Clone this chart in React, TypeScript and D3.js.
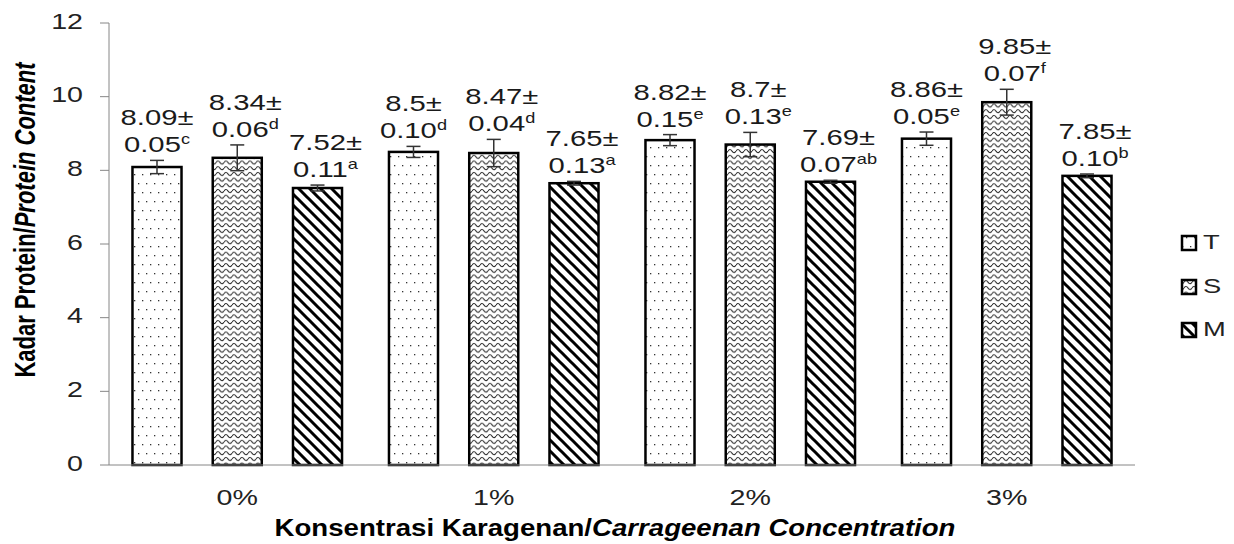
import React from "react";
import * as d3 from "d3";

const categories = ["0%", "1%", "2%", "3%"];
const seriesNames = ["T", "S", "M"];
const valuesT = [8.09, 8.5, 8.82, 8.86];
const valuesS = [8.34, 8.47, 8.7, 9.85];
const valuesM = [7.52, 7.65, 7.69, 7.85];
const errT = [0.18, 0.15, 0.15, 0.18];
const errS = [0.35, 0.37, 0.33, 0.35];
const errM = [0.08, 0.05, 0.04, 0.05];
const sdT = ["0.05", "0.10", "0.15", "0.05"];
const sdS = ["0.06", "0.04", "0.13", "0.07"];
const sdM = ["0.11", "0.13", "0.07", "0.10"];
const lettersT = ["c", "d", "e", "e"];
const lettersS = ["d", "d", "e", "f"];
const lettersM = ["a", "a", "ab", "b"];
const yTicks = [0, 2, 4, 6, 8, 10, 12];

const W = 1234;
const H = 544;
const X0 = 109;
const X1 = 1135;
const Y0 = 465;
const Y1 = 23;
const SX = 1.3;
const FONT = "'Liberation Sans', Arial, sans-serif";

const seriesData = [
  { name: "T", values: valuesT, err: errT, sd: sdT, letters: lettersT, fill: "url(#patDots)", dx: 0 },
  { name: "S", values: valuesS, err: errS, sd: sdS, letters: lettersS, fill: "url(#patWave)", dx: 8 },
  { name: "M", values: valuesM, err: errM, sd: sdM, letters: lettersM, fill: "url(#patDiag)", dx: 8 },
];

function SText({ x, y, sx = SX, children, ...rest }: any) {
  return (
    <g transform={`translate(${x},${y}) scale(${sx},1)`}>
      <text fontFamily={FONT} {...rest}>
        {children}
      </text>
    </g>
  );
}

export default function App() {
  const x = d3.scaleBand<string>().domain(categories).range([X0, X1]).paddingInner(0).paddingOuter(0);
  const xs = d3
    .scaleBand<string>()
    .domain(seriesNames)
    .range([0, x.bandwidth()])
    .paddingInner(0.389)
    .paddingOuter(0.2925);
  const y = d3.scaleLinear().domain([0, 12]).range([Y0, Y1]);
  const bw = xs.bandwidth();

  return (
    <svg width={W} height={H} style={{ position: "absolute", left: 0, top: 0, display: "block", background: "#fff" }}>
      <defs>
        <pattern id="patDots" patternUnits="userSpaceOnUse" width={8} height={18}>
          <rect width={8} height={18} fill="#fff" />
          <rect x={2} y={3} width={1.3} height={1.3} fill="#333" />
          <rect x={6} y={12} width={1.3} height={1.3} fill="#333" />
        </pattern>
        <pattern id="patWave" patternUnits="userSpaceOnUse" width={8} height={5.7}>
          <rect width={8} height={5.7} fill="#fff" />
          <path d="M0,3 Q2,0 4,3 T8,3" fill="none" stroke="#222" strokeWidth={1} />
        </pattern>
        <pattern id="patDiag" patternUnits="userSpaceOnUse" width={11} height={11}>
          <rect width={11} height={11} fill="#fff" />
          <path d="M-2,-2 L13,13 M-7.5,3.5 L3.5,14.5 M7.5,-3.5 L14.5,3.5" stroke="#000" strokeWidth={3} />
        </pattern>
      </defs>

      {/* y axis */}
      <line x1={X0} x2={X0} y1={y(12)} y2={Y0} stroke="#868686" strokeWidth={1} />
      {yTicks.map((t) => (
        <g key={t}>
          <line x1={X0 - 9} x2={X0} y1={y(t)} y2={y(t)} stroke="#868686" strokeWidth={1} />
          <SText x={83} y={y(t)} textAnchor="end" dominantBaseline="middle" fontSize={22} fill="#222">
            {t}
          </SText>
        </g>
      ))}

      {/* bars */}
      {categories.map((c, ci) => (
        <g key={c}>
          {seriesData.map((s) => {
            const bx = (x(c) as number) + (xs(s.name) as number);
            const v = s.values[ci];
            const e = s.err[ci];
            const cx = bx + bw / 2;
            const line2 = y(v + e) - 8;
            const line1 = line2 - 27;
            return (
              <g key={s.name}>
                <rect x={bx} y={y(v)} width={bw} height={Y0 - y(v)} fill={s.fill} stroke="#000" strokeWidth={2.5} />
                <g stroke="#333" strokeWidth={1.5}>
                  <line x1={cx} x2={cx} y1={y(v + e)} y2={y(v - e)} />
                  <line x1={cx - 7} x2={cx + 7} y1={y(v + e)} y2={y(v + e)} />
                  <line x1={cx - 7} x2={cx + 7} y1={y(v - e)} y2={y(v - e)} />
                </g>
                <SText x={cx + s.dx} y={line1} textAnchor="middle" fontSize={22.5} fill="#1a1a1a">
                  {`${v}±`}
                </SText>
                <SText x={cx + s.dx} y={line2} textAnchor="middle" fontSize={22.5} fill="#1a1a1a">
                  {s.sd[ci]}
                  <tspan fontSize={14} dy={-8}>
                    {s.letters[ci]}
                  </tspan>
                </SText>
              </g>
            );
          })}
          <SText x={(x(c) as number) + x.bandwidth() / 2} y={505} textAnchor="middle" fontSize={22} fill="#222">
            {c}
          </SText>
        </g>
      ))}

      {/* x axis */}
      <line x1={X0} x2={X1} y1={Y0} y2={Y0} stroke="#868686" strokeWidth={1} />

      {/* axis titles */}
      <SText x={615} y={536} sx={1.15} textAnchor="middle" fontSize={24} fontWeight="bold" fill="#000">
        Konsentrasi Karagenan/<tspan fontStyle="italic">Carrageenan Concentration</tspan>
      </SText>
      <g transform={`translate(27,220) scale(${SX},1) rotate(-90)`}>
        <text fontFamily={FONT} textAnchor="middle" dominantBaseline="middle" fontSize={22} fontWeight="bold" fill="#000">
          Kadar Protein/<tspan fontStyle="italic">Protein Content</tspan>
        </text>
      </g>

      {/* legend */}
      {seriesData.map((s, i) => {
        const ly = [243, 287, 330][i];
        return (
          <g key={s.name}>
            <rect x={1182} y={ly - 7} width={14} height={14} fill={s.fill} stroke="#000" strokeWidth={2.5} />
            <SText x={1203} y={ly} dominantBaseline="middle" fontSize={21} fill="#222">
              {s.name}
            </SText>
          </g>
        );
      })}
    </svg>
  );
}
